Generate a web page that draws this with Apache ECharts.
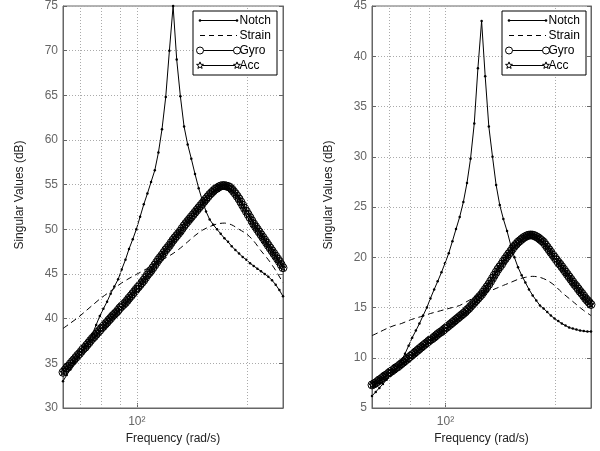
<!DOCTYPE html>
<html>
<head>
<meta charset="utf-8">
<style>
  html, body { margin: 0; padding: 0; background: #fff; }
  #chart { width: 600px; height: 451px; }
</style>
<script src="https://cdn.jsdelivr.net/npm/echarts@6.0.0/dist/echarts.min.js"></script>
</head>
<body>
<div id="chart"></div>
<script>
// === Frecuencias (rad/s) =====================================================
const w = [62.8, 64.3, 65.8, 67.3, 68.9, 70.5, 72.2, 73.9, 75.6, 77.4,
           79.2, 81.0, 82.9, 84.8, 86.8, 88.9, 90.9, 93.1, 95.2, 97.5,
           99.7, 102.1, 104.5, 106.9, 109.4, 112.0, 114.6, 117.2, 120.0, 122.8,
           125.7, 128.6, 131.6, 134.7, 137.8, 141.0, 144.3, 147.7, 151.2, 154.7,
           158.3, 162.0, 165.8, 169.7, 173.7, 177.7, 181.9, 186.1, 190.5, 194.9,
           199.5, 204.2, 208.9, 213.8, 218.8, 223.9, 229.1, 234.5, 240.0, 245.6, 251.3];
// Gyro/Acc: malla más fina (la banda de círculos es muy densa)
const wFine = [62.8, 63.6, 64.3, 65.1, 65.8, 66.6, 67.3, 68.1, 68.9, 69.7,
               70.5, 71.3, 72.2, 73.0, 73.9, 74.7, 75.6, 76.5, 77.4, 78.3,
               79.2, 80.1, 81.0, 82.0, 82.9, 83.9, 84.8, 85.8, 86.8, 87.8,
               88.9, 89.9, 90.9, 92.0, 93.1, 94.2, 95.2, 96.4, 97.5, 98.6,
               99.7, 100.9, 102.1, 103.3, 104.5, 105.7, 106.9, 108.2, 109.4, 110.7,
               112.0, 113.3, 114.6, 115.9, 117.2, 118.6, 120.0, 121.4, 122.8, 124.2,
               125.7, 127.1, 128.6, 130.1, 131.6, 133.1, 134.7, 136.2, 137.8, 139.4,
               141.0, 142.7, 144.3, 146.0, 147.7, 149.4, 151.2, 152.9, 154.7, 156.5,
               158.3, 160.2, 162.0, 163.9, 165.8, 167.7, 169.7, 171.7, 173.7, 175.7,
               177.7, 179.8, 181.9, 184.0, 186.1, 188.3, 190.5, 192.7, 194.9, 197.2,
               199.5, 201.8, 204.2, 206.5, 208.9, 211.4, 213.8, 216.3, 218.8, 221.4,
               223.9, 226.5, 229.1, 231.8, 234.5, 237.2, 240.0, 242.8, 245.6, 248.4, 251.3];
// Strain: malla gruesa (sin marcadores)
const wStrain = [62.8, 65.8, 68.9, 72.2, 75.6, 79.2, 82.9, 86.8, 90.9, 95.2,
                 99.7, 104.5, 109.4, 114.6, 120.0, 125.7, 131.6, 137.8, 144.3, 151.2,
                 158.3, 165.8, 173.7, 181.9, 190.5, 199.5, 208.9, 218.8, 229.1, 240.0, 251.3];
const gridW = [70, 80, 90, 100, 200];   // líneas de grilla verticales (log)

// === Panel izquierdo (dB) ====================================================
const notchL = [33.0, 33.7, 34.3, 35.0, 35.6, 36.3, 37.0, 37.6, 38.3, 39.3,
                40.3, 41.1, 41.9, 42.8, 43.6, 44.4, 45.5, 46.6, 47.8, 48.9,
                50.0, 51.4, 52.8, 54.0, 55.3, 56.6, 58.6, 61.2, 64.8, 70.0,
                75.0, 69.0, 64.9, 61.5, 59.5, 57.9, 56.2, 54.6, 53.2, 52.0,
                51.1, 50.5, 50.0, 49.5, 49.0, 48.6, 48.1, 47.7, 47.3, 46.9,
                46.6, 46.2, 45.9, 45.6, 45.3, 45.0, 44.7, 44.3, 43.8, 43.2, 42.5];
const gyroL = [34.0, 34.25, 34.5, 34.7, 34.95, 35.2, 35.4, 35.65, 35.9, 36.1,
               36.35, 36.6, 36.8, 37.05, 37.3, 37.55, 37.8, 38.0, 38.25, 38.5,
               38.7, 38.95, 39.15, 39.4, 39.6, 39.85, 40.05, 40.3, 40.5, 40.7,
               40.95, 41.2, 41.4, 41.6, 41.8, 42.05, 42.3, 42.55, 42.8, 43.05,
               43.3, 43.55, 43.8, 44.05, 44.3, 44.6, 44.9, 45.15, 45.4, 45.7,
               46.0, 46.3, 46.6, 46.85, 47.1, 47.4, 47.7, 47.95, 48.2, 48.5,
               48.8, 49.05, 49.3, 49.55, 49.8, 50.1, 50.4, 50.65, 50.9, 51.15,
               51.4, 51.65, 51.9, 52.15, 52.4, 52.65, 52.9, 53.15, 53.4, 53.65,
               53.9, 54.1, 54.3, 54.5, 54.6, 54.75, 54.85, 54.9, 54.9, 54.85,
               54.8, 54.7, 54.5, 54.25, 54.0, 53.7, 53.4, 53.05, 52.7, 52.35,
               52.0, 51.65, 51.3, 50.95, 50.6, 50.3, 50.0, 49.7, 49.4, 49.1,
               48.8, 48.5, 48.2, 47.9, 47.6, 47.3, 47.0, 46.7, 46.4, 46.05, 45.7];
const accL = gyroL; // Acc queda bajo Gyro en la figura
const strainL = [38.9, 39.5, 40.1, 40.8, 41.5, 42.2, 42.8, 43.4, 44.0, 44.5,
                 44.95, 45.4, 45.9, 46.35, 46.8, 47.3, 47.9, 48.6, 49.3, 49.9,
                 50.3, 50.6, 50.7, 50.5, 50.0, 49.5, 48.7, 47.6, 46.6, 45.4, 44.0];

// === Panel derecho (dB) ======================================================
const notchR = [6.2, 6.6, 7.0, 7.4, 7.8, 8.2, 8.6, 9.1, 9.7, 10.4,
                11.2, 12.0, 12.7, 13.4, 14.2, 15.0, 15.9, 16.8, 17.6, 18.5,
                19.4, 20.4, 21.6, 22.8, 24.0, 25.5, 27.4, 29.8, 33.3, 38.8,
                43.5, 38.0, 33.0, 30.0, 27.2, 25.2, 23.8, 22.6, 21.2, 20.0,
                19.0, 18.2, 17.5, 16.8, 16.2, 15.7, 15.2, 14.9, 14.55, 14.2,
                13.9, 13.65, 13.4, 13.2, 13.0, 12.9, 12.8, 12.7, 12.65, 12.6, 12.6];
const gyroR = [7.3, 7.4, 7.5, 7.65, 7.8, 7.9, 8.05, 8.2, 8.3, 8.45,
               8.6, 8.7, 8.85, 9.0, 9.1, 9.25, 9.4, 9.55, 9.7, 9.85,
               10.0, 10.15, 10.3, 10.45, 10.6, 10.75, 10.9, 11.05, 11.2, 11.35,
               11.5, 11.65, 11.8, 11.9, 12.05, 12.2, 12.35, 12.5, 12.6, 12.75,
               12.9, 13.05, 13.2, 13.35, 13.5, 13.65, 13.8, 13.95, 14.1, 14.25,
               14.4, 14.55, 14.75, 14.9, 15.1, 15.3, 15.5, 15.7, 15.9, 16.1,
               16.3, 16.55, 16.8, 17.05, 17.3, 17.6, 17.9, 18.2, 18.5, 18.8,
               19.05, 19.3, 19.6, 19.85, 20.1, 20.35, 20.6, 20.85, 21.1, 21.3,
               21.5, 21.65, 21.8, 21.95, 22.05, 22.15, 22.2, 22.22, 22.2, 22.15,
               22.05, 21.95, 21.8, 21.65, 21.5, 21.25, 21.0, 20.75, 20.5, 20.25,
               20.0, 19.75, 19.5, 19.3, 19.05, 18.8, 18.55, 18.3, 18.05, 17.8,
               17.55, 17.3, 17.1, 16.85, 16.6, 16.4, 16.15, 15.9, 15.7, 15.5, 15.3];
const accR = gyroR;
const strainR = [12.2, 12.55, 12.9, 13.2, 13.4, 13.7, 13.95, 14.15, 14.4, 14.6,
                 14.8, 15.0, 15.2, 15.6, 16.0, 16.4, 16.6, 16.9, 17.2, 17.5,
                 17.8, 18.0, 18.1, 18.0, 17.7, 17.2, 16.5, 15.9, 15.3, 14.7, 14.2];

const legendNames = ['Notch', 'Strain', 'Gyro', 'Acc'];

// === Estilos =================================================================
const FONT = '"Liberation Sans", Arial, Helvetica, sans-serif';
const ink = '#000', frame = '#666', gridCol = '#aaa', tickText = '#666';
const STAR = 'path://M0,-10 L2.35,-3.24 L9.51,-3.09 L3.8,1.24 L5.88,8.09 L0,4 L-5.88,8.09 L-3.8,1.24 L-9.51,-3.09 L-2.35,-3.24 Z';
const pairs = (xs, ys) => xs.map((x, i) => [x, ys[i]]);

const gridBox = (left, right) => ({
  left, right, top: 5, bottom: 43,
  show: true, borderColor: frame, borderWidth: 1, backgroundColor: '#fff'
});

const xAxisFor = g => ({
  type: 'log', logBase: 10, gridIndex: g, min: 62.8, max: 251.3,
  name: 'Frequency (rad/s)', nameLocation: 'middle', nameGap: 24,
  nameTextStyle: { color: '#222', fontSize: 12, fontFamily: FONT },
  axisLine: { show: true, lineStyle: { color: frame } },
  axisTick: { show: true, inside: true, length: 5, lineStyle: { color: frame } },
  axisLabel: { color: tickText, fontSize: 12, fontFamily: FONT, margin: 8,
               formatter: v => Math.round(v) === 100 ? '10²' : '' },
  splitLine: { show: false }
});

const yAxisFor = (g, min, max, pos) => {
  const left = pos === 'left';
  return {
    type: 'value', gridIndex: g, position: pos, min, max, interval: 5,
    name: left ? 'Singular Values (dB)' : '', nameLocation: 'middle', nameGap: 37, nameRotate: 90,
    nameTextStyle: { color: '#222', fontSize: 12, fontFamily: FONT, padding: [0, 0, 0, 24] },
    axisLine: { show: true, onZero: false, lineStyle: { color: frame } },
    axisTick: { show: true, inside: true, length: 4, lineStyle: { color: frame } },
    axisLabel: { show: left, color: tickText, fontSize: 12, fontFamily: FONT, margin: 5 },
    splitLine: { show: left, lineStyle: { color: gridCol, type: [1, 2], width: 1 } }
  };
};

const vGrid = {
  silent: true, symbol: ['none', 'none'], label: { show: false },
  lineStyle: { color: gridCol, type: [1, 2], width: 1 },
  emphasis: { disabled: true },
  data: gridW.map(v => ({ xAxis: v }))
};

const base = g => ({ type: 'line', xAxisIndex: g, yAxisIndex: g, silent: true, animation: false, emphasis: { disabled: true } });

function seriesFor(g, notch, strain, gyro, acc) {
  return [
    { ...base(g), name: 'Notch', data: pairs(w, notch), symbol: 'circle', symbolSize: 2.5, showAllSymbol: true,
      itemStyle: { color: ink }, lineStyle: { color: ink, width: 1 }, markLine: vGrid },
    { ...base(g), name: 'Strain', data: pairs(wStrain, strain), symbol: 'none', smooth: 0.3,
      lineStyle: { color: ink, width: 1, type: [6, 4] } },
    { ...base(g), name: 'Gyro', data: pairs(wFine, gyro), symbol: 'circle', symbolSize: 8, showAllSymbol: true,
      itemStyle: { color: 'rgba(0,0,0,0)', borderColor: ink, borderWidth: 1 }, lineStyle: { color: ink, width: 1 } },
    { ...base(g), name: 'Acc', data: pairs(wFine, acc), symbol: STAR, symbolSize: 6, showAllSymbol: true,
      itemStyle: { color: 'rgba(0,0,0,0)', borderColor: ink, borderWidth: 1 }, lineStyle: { color: ink, width: 1 } }
  ];
}

// === Leyenda estilo MATLAB (línea con marcador en ambos extremos) ============
function starPts(cx, cy, r) {
  const p = [];
  for (let i = 0; i < 10; i++) {
    const a = -Math.PI / 2 + i * Math.PI / 5, rr = i % 2 ? r * 0.42 : r;
    p.push([cx + rr * Math.cos(a), cy + rr * Math.sin(a)]);
  }
  return p;
}
function legendAt(x0, y0) {
  const Z = 100;
  const kids = [{ type: 'rect', z: Z, shape: { x: 0, y: 0, width: 84, height: 64 },
                  style: { fill: '#fff', stroke: ink, lineWidth: 1 } }];
  legendNames.forEach((name, i) => {
    const y = 9.5 + 15 * i, xa = 7, xb = 44;
    kids.push({ type: 'line', z: Z + 1, shape: { x1: xa, y1: y, x2: xb, y2: y },
                style: { stroke: ink, lineWidth: 1, lineDash: name === 'Strain' ? [5, 4] : null } });
    [xa, xb].forEach(x => {
      if (name === 'Notch') kids.push({ type: 'circle', z: Z + 2, shape: { cx: x, cy: y, r: 1.3 }, style: { fill: ink } });
      if (name === 'Gyro') kids.push({ type: 'circle', z: Z + 2, shape: { cx: x, cy: y, r: 3.5 }, style: { fill: '#fff', stroke: ink, lineWidth: 1 } });
      if (name === 'Acc') kids.push({ type: 'polygon', z: Z + 2, shape: { points: starPts(x, y, 3.6) }, style: { fill: '#fff', stroke: ink, lineWidth: 1 } });
    });
    kids.push({ type: 'text', z: Z + 2, x: xb + 2.5, y: y,
                style: { text: name, fill: ink, fontSize: 12, fontFamily: FONT, verticalAlign: 'middle', align: 'left' } });
  });
  return { type: 'group', x: x0, y: y0, z: Z, children: kids };
}

const option = {
  animation: false,
  backgroundColor: '#fff',
  grid: [gridBox(63, 317), gridBox(372, 9)],
  xAxis: [xAxisFor(0), xAxisFor(1)],
  yAxis: [yAxisFor(0, 30, 75, 'left'), yAxisFor(1, 5, 45, 'left'),
          yAxisFor(0, 30, 75, 'right'), yAxisFor(1, 5, 45, 'right')],
  series: [...seriesFor(0, notchL, strainL, gyroL, accL), ...seriesFor(1, notchR, strainR, gyroR, accR)],
  graphic: [legendAt(193, 11), legendAt(502, 11)]
};

const chart = echarts.init(document.getElementById('chart'));
chart.setOption(option);
</script>
</body>
</html>
